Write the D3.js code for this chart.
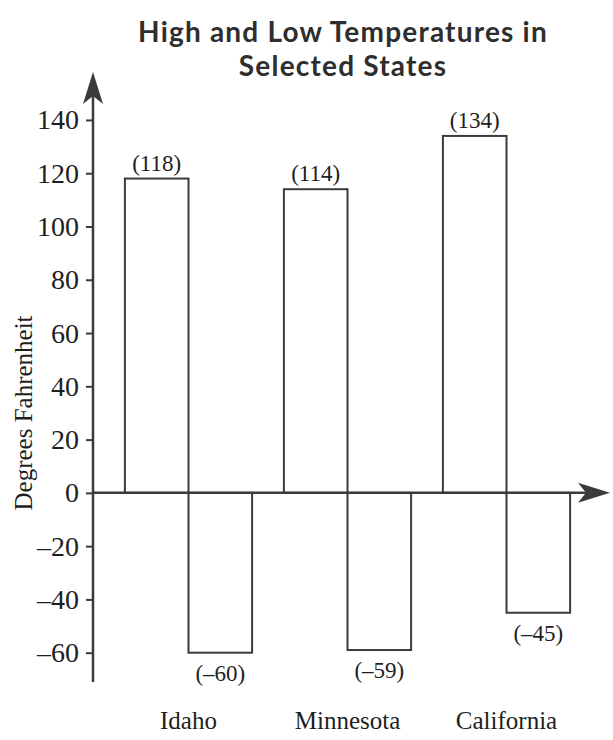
<!DOCTYPE html>
<html>
<head>
<meta charset="utf-8">
<script src="https://cdn.jsdelivr.net/npm/d3@7"></script>
<style>
  html, body { margin: 0; padding: 0; background: #fff; }
  svg { display: block; }
</style>
</head>
<body>
<div id="chart"></div>
<script>
// chart data
const states = ["Idaho", "Minnesota", "California"];
const highs = [118, 114, 134];
const lows = [-60, -59, -45];
const yTicks = [-60, -40, -20, 0, 20, 40, 60, 80, 100, 120, 140];

const width = 613;
const height = 740;
const ink = "#3b3b3b";

const svg = d3.select("#chart")
    .append("svg")
    .attr("width", width)
    .attr("height", height);

// scales
const y = d3.scaleLinear()
    .domain([-71, 158])
    .range([682, 72]);

const x = d3.scaleBand()
    .domain(states)
    .range([109, 586])
    .paddingInner(0.2)
    .paddingOuter(0.1);

const sub = d3.scaleBand()
    .domain(["high", "low"])
    .range([0, x.bandwidth()]);

const axisX = 93;

// title, two lines
svg.append("g")
    .selectAll("text")
    .data(["High and Low Temperatures in", "Selected States"])
    .join("text")
    .attr("x", 343)
    .attr("y", (d, i) => 42 + i * 34)
    .attr("text-anchor", "middle")
    .attr("font-family", "Lato, sans-serif")
    .attr("font-weight", "bold")
    .attr("font-size", 28)
    .attr("letter-spacing", 1.2)
    .attr("fill", "#2e2e2e")
    .text(d => d);

// bars
const rows = states.flatMap((s, i) => [
    { state: s, kind: "high", value: highs[i] },
    { state: s, kind: "low", value: lows[i] }
]);

const bars = svg.append("g");

bars.selectAll("rect")
    .data(rows)
    .join("rect")
    .attr("x", d => x(d.state) + sub(d.kind))
    .attr("y", d => y(Math.max(0, d.value)))
    .attr("width", sub.bandwidth())
    .attr("height", d => Math.abs(y(d.value) - y(0)))
    .attr("fill", "#fff")
    .attr("stroke", ink)
    .attr("stroke-width", 2);

// value labels
bars.selectAll("text")
    .data(rows)
    .join("text")
    .attr("x", d => x(d.state) + sub(d.kind) + sub.bandwidth() / 2)
    .attr("y", d => d.value > 0 ? y(d.value) - 8 : y(d.value) + 28)
    .attr("text-anchor", "middle")
    .attr("font-family", "'Liberation Serif', serif")
    .attr("font-size", 23)
    .attr("fill", "#1e1e1e")
    .text(d => "(" + String(d.value).replace("-", "\u2013") + ")");

// y axis
const yAxis = svg.append("g")
    .attr("transform", `translate(${axisX},0)`)
    .call(d3.axisLeft(y)
        .tickValues(yTicks)
        .tickSize(7)
        .tickPadding(7)
        .tickFormat(d => String(d).replace("-", "\u2013")));

yAxis.select(".domain").remove();
yAxis.selectAll(".tick line")
    .attr("stroke", ink)
    .attr("stroke-width", 2);
yAxis.selectAll(".tick text")
    .attr("font-family", "'Liberation Serif', serif")
    .attr("font-size", 28)
    .attr("fill", "#1e1e1e");

yAxis.append("line")
    .attr("x1", 0)
    .attr("x2", 0)
    .attr("y1", y(-71))
    .attr("y2", y(152))
    .attr("stroke", ink)
    .attr("stroke-width", 2.5);

// y arrow head
const yTip = y(158);
yAxis.append("path")
    .attr("d", `M0,${yTip} L10,${yTip + 32} L0,${yTip + 24} L-10,${yTip + 32} Z`)
    .attr("fill", ink);

// x axis (zero line) with arrow
const zeroY = y(0);
svg.append("line")
    .attr("x1", axisX)
    .attr("x2", 590)
    .attr("y1", zeroY)
    .attr("y2", zeroY)
    .attr("stroke", ink)
    .attr("stroke-width", 2.5);

svg.append("path")
    .attr("d", `M610,${zeroY} L578,${zeroY - 10} L586,${zeroY} L578,${zeroY + 10} Z`)
    .attr("fill", ink);

// y axis title
svg.append("text")
    .attr("transform", `translate(32,${y(30)}) rotate(-90)`)
    .attr("text-anchor", "middle")
    .attr("font-family", "'Liberation Serif', serif")
    .attr("font-size", 25)
    .attr("fill", "#1e1e1e")
    .text("Degrees Fahrenheit");

// category labels
svg.append("g")
    .selectAll("text")
    .data(states)
    .join("text")
    .attr("x", d => x(d) + x.bandwidth() / 2)
    .attr("y", 729)
    .attr("text-anchor", "middle")
    .attr("font-family", "'Liberation Serif', serif")
    .attr("font-size", 25)
    .attr("fill", "#1e1e1e")
    .text(d => d);
</script>
</body>
</html>
